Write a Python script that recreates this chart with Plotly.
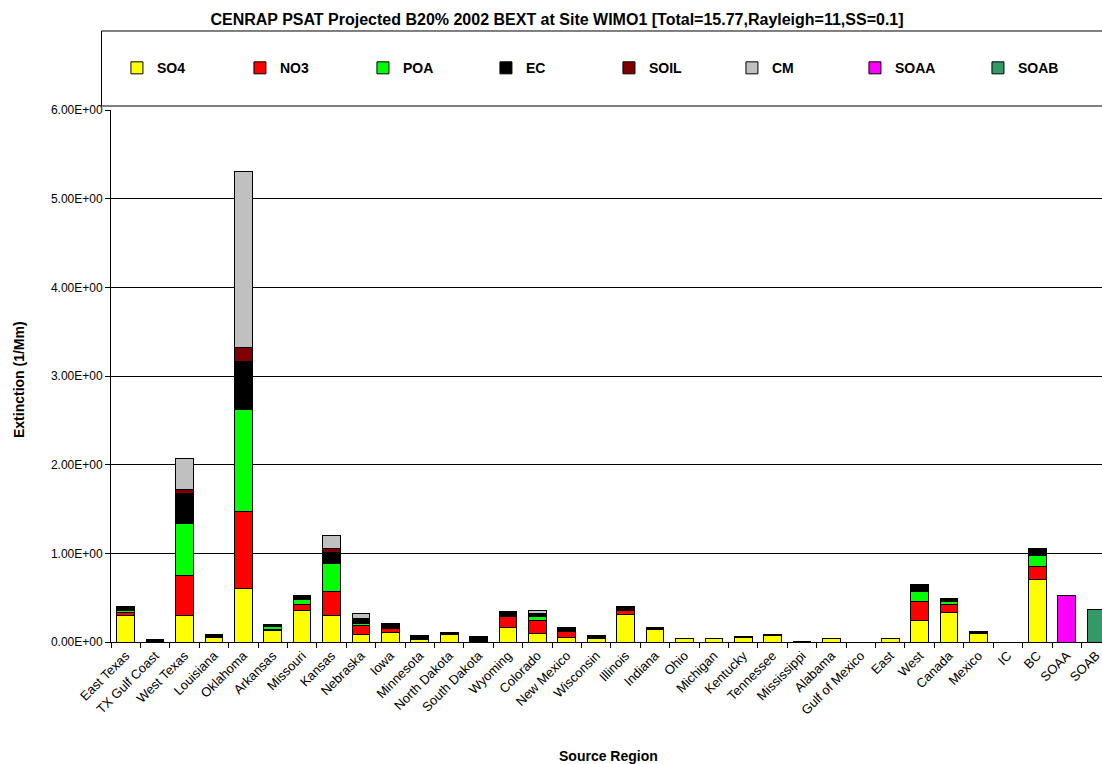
import plotly.graph_objects as go

# Source regions along the x axis
regions = [
    "East Texas", "TX Gulf Coast", "West Texas", "Louisiana", "Oklahoma", "Arkansas",
    "Missouri", "Kansas", "Nebraska", "Iowa", "Minnesota", "North Dakota",
    "South Dakota", "Wyoming", "Colorado", "New Mexico", "Wisconsin", "Illinois",
    "Indiana", "Ohio", "Michigan", "Kentucky", "Tennessee", "Mississippi",
    "Alabama", "Gulf of Mexico", "East", "West", "Canada", "Mexico", "IC", "BC",
    "SOAA", "SOAB",
]

# Extinction contribution (1/Mm) by species for each source region
so4 = [0.30, 0.005, 0.30, 0.05, 0.605, 0.125, 0.35, 0.30, 0.08, 0.11, 0.025, 0.085,
       0.005, 0.16, 0.10, 0.055, 0.035, 0.315, 0.145, 0.045, 0.035, 0.055, 0.075, 0.0,
       0.035, 0.0, 0.045, 0.24, 0.33, 0.10, 0.0, 0.71, 0.0, 0.0]
no3 = [0.035, 0.0, 0.445, 0.01, 0.865, 0.015, 0.075, 0.275, 0.11, 0.045, 0.005, 0.0,
       0.0, 0.125, 0.14, 0.06, 0.0, 0.045, 0.0, 0.0, 0.0, 0.0, 0.0, 0.0,
       0.0, 0.0, 0.0, 0.22, 0.095, 0.0, 0.0, 0.14, 0.0, 0.0]
poa = [0.025, 0.0, 0.595, 0.01, 1.15, 0.03, 0.055, 0.305, 0.02, 0.005, 0.0, 0.0,
       0.0, 0.0, 0.05, 0.0, 0.0, 0.0, 0.0, 0.0, 0.0, 0.0, 0.0, 0.0,
       0.0, 0.0, 0.0, 0.105, 0.03, 0.0, 0.0, 0.12, 0.0, 0.0]
ec = [0.04, 0.02, 0.33, 0.02, 0.54, 0.025, 0.04, 0.13, 0.04, 0.04, 0.045, 0.02,
      0.055, 0.055, 0.03, 0.05, 0.035, 0.04, 0.02, 0.0, 0.01, 0.005, 0.01, 0.01,
      0.01, 0.0, 0.0, 0.085, 0.035, 0.015, 0.0, 0.09, 0.0, 0.0]
soil = [0.0, 0.0, 0.045, 0.0, 0.16, 0.0, 0.0, 0.045, 0.01, 0.01, 0.0, 0.0,
        0.0, 0.0, 0.005, 0.0, 0.0, 0.0, 0.0, 0.0, 0.0, 0.0, 0.0, 0.0,
        0.0, 0.0, 0.0, 0.0, 0.0, 0.0, 0.0, 0.0, 0.0, 0.0]
cm = [0.0, 0.0, 0.35, 0.0, 1.99, 0.0, 0.0, 0.145, 0.06, 0.0, 0.0, 0.0,
      0.0, 0.0, 0.03, 0.0, 0.0, 0.0, 0.0, 0.0, 0.0, 0.0, 0.0, 0.0,
      0.0, 0.0, 0.0, 0.0, 0.0, 0.0, 0.0, 0.0, 0.0, 0.0]
soaa = [0.0] * 32 + [0.52, 0.0]
soab = [0.0] * 33 + [0.37]

species = ["SO4", "NO3", "POA", "EC", "SOIL", "CM", "SOAA", "SOAB"]
colors = ["#FFFF00", "#FF0000", "#00FF00", "#000000", "#800000", "#C0C0C0",
          "#FF00FF", "#339966"]
series = [so4, no3, poa, ec, soil, cm, soaa, soab]

# y-axis ticks in Excel-style scientific notation
y_ticks = [0, 1, 2, 3, 4, 5, 6]
y_ticktext = [f"{v:.2E}" for v in y_ticks]

FONT = "Arial, Liberation Sans, sans-serif"

fig = go.Figure()
for name, col, vals in zip(species, colors, series):
    fig.add_trace(go.Bar(
        name=name,
        x=regions,
        y=[v if v > 0 else None for v in vals],
        marker=dict(color=col, line=dict(color="#000000", width=1)),
    ))

# Framed legend area above the plot
fig.add_shape(type="rect", xref="paper", yref="paper",
              x0=-0.0096, x1=1.01, y0=1.0075, y1=1.1485,
              line=dict(color="#000000", width=1), fillcolor="rgba(0,0,0,0)")

fig.update_layout(
    width=1102, height=764,
    margin=dict(l=111, r=0, t=110, b=122),
    paper_bgcolor="#FFFFFF", plot_bgcolor="#FFFFFF",
    barmode="stack", bargap=0.4,
    font=dict(family=FONT, size=12, color="#000000"),
    title=dict(
        text="<b>CENRAP PSAT Projected B20% 2002 BEXT at Site WIMO1 [Total=15.77,Rayleigh=11,SS=0.1]</b>",
        x=557 / 1102, xref="container", xanchor="center",
        y=1 - 19 / 764, yref="container", yanchor="middle",
        font=dict(family=FONT, size=16, color="#000000"),
    ),
    legend=dict(
        orientation="h", x=0.006, xanchor="left", y=1.0785, yanchor="middle",
        entrywidth=78, entrywidthmode="pixels", traceorder="normal",
        font=dict(family=FONT, size=14, color="#000000", weight="bold"),
        bgcolor="rgba(0,0,0,0)", borderwidth=0,
    ),
    xaxis=dict(
        range=[-0.5, 33.2], tickangle=-45, tickson="boundaries",
        ticks="outside", ticklen=5, tickcolor="#000000",
        showline=True, linecolor="#000000", linewidth=1,
        showgrid=False, automargin=False,
        tickfont=dict(family=FONT, size=13, color="#000000"),
    ),
    yaxis=dict(
        range=[0, 6], tickvals=y_ticks, ticktext=y_ticktext,
        ticks="outside", ticklen=5, tickcolor="#000000",
        showline=True, linecolor="#000000", linewidth=1,
        showgrid=True, gridcolor="#000000", gridwidth=1,
        zeroline=False, automargin=False,
        tickfont=dict(family=FONT, size=12, color="#000000"),
    ),
    annotations=[
        dict(text="<b>Source Region</b>", xref="paper", yref="paper",
             x=0.5025, y=-0.2143, xanchor="center", yanchor="middle",
             showarrow=False, font=dict(family=FONT, size=14)),
        dict(text="<b>Extinction (1/Mm)</b>", xref="paper", yref="paper",
             x=-0.093, y=0.494, xanchor="center", yanchor="middle", textangle=-90,
             showarrow=False, font=dict(family=FONT, size=14)),
    ],
)

fig.write_html("out.html")
